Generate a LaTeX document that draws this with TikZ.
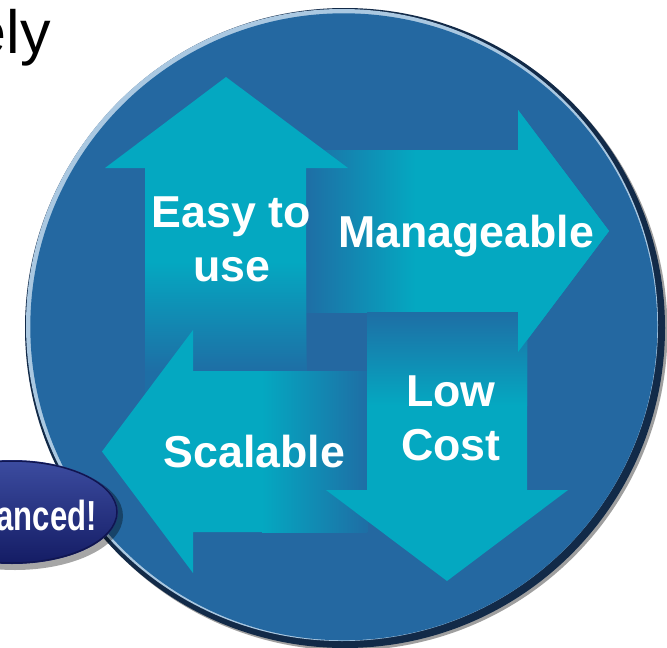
\documentclass[tikz,border=0pt]{standalone}
\usepackage{fontspec}
\setmainfont{Liberation Sans}
\definecolor{bgblue}{RGB}{36,104,161}
\definecolor{arrowteal}{RGB}{4,168,193}
\definecolor{tailblue}{RGB}{30,110,165}
\definecolor{rimdark}{RGB}{18,42,72}
\definecolor{hilite}{RGB}{170,200,225}
\definecolor{navytop}{RGB}{60,76,160}
\definecolor{navybot}{RGB}{20,28,100}
\begin{document}
\begin{tikzpicture}[x=1pt,y=-1pt,
  lbl/.style={text=white,font=\bfseries\fontsize{44.7}{56}\selectfont,inner sep=0pt,anchor=base}]
\useasboundingbox (0,0) rectangle (667,648);
\clip (0,0) rectangle (667,648);
% disc with rim
\fill[gray!75] (347.5,330.5) circle[radius=320pt];
\fill[rimdark] (345,328) circle[radius=320pt];
\fill[hilite] (342,325) circle[radius=316pt];
\fill[bgblue] (343.8,326.8) circle[radius=313.5pt];
% right arrow
\fill[arrowteal] (306,150) -- (518,150) -- (518,110) -- (609,231) -- (518,352) -- (518,312) -- (306,312) -- cycle;
\shade[left color=tailblue, right color=arrowteal] (306,150) rectangle (415,312);
% up arrow
\fill[arrowteal] (226,77) -- (348,168) -- (306,168) -- (306,400) -- (145,400) -- (145,168) -- (105,168) -- cycle;
\shade[top color=arrowteal, bottom color=tailblue] (145,262) rectangle (306,371);
\fill[tailblue] (145,371) rectangle (306,400);
% left arrow
\fill[arrowteal] (367,371) -- (367,532) -- (193,532) -- (193,573) -- (102,451.5) -- (193,330) -- (193,371) -- cycle;
\shade[left color=arrowteal, right color=tailblue] (262,371) rectangle (367,532);
% down arrow
\fill[arrowteal] (367,312) -- (527,312) -- (527,490) -- (568,490) -- (447,581) -- (326,490) -- (367,490) -- cycle;
\shade[top color=tailblue, bottom color=arrowteal] (367,312) rectangle (527,405);
% right arrow head again (on top of the down arrow)
\fill[arrowteal] (518,110) -- (609,231) -- (518,352) -- cycle;
% labels
\node[lbl] (easy) at (231.5,227) {Easy to};
\node[lbl] (use) at (232,281) {use};
\node[lbl] (mng) at (466,247) {Manageable};
\node[lbl] (low) at (451,406) {Low};
\node[lbl] (cost) at (451,460) {Cost};
\node[lbl] (scal) at (254.5,467) {Scalable};
% badge
\fill[black, opacity=0.35] (15,516) ellipse[x radius=108pt, y radius=54pt];
\shade[top color=navytop, bottom color=navybot] (12,512) ellipse[x radius=106pt, y radius=52pt];
\draw[navybot!80!black, line width=1.5pt] (12,512) ellipse[x radius=105pt, y radius=51pt];
\node[anchor=base east, inner sep=0pt, text=white, font=\bfseries\fontsize{42}{42}\selectfont] (badge) at (97,530) {\scalebox{0.74}[1]{anced!}};
% heading fragment
\node[anchor=base east, inner sep=0pt, text=black, font=\fontsize{61}{61}\selectfont] (ely) at (51,53) {ely};
\end{tikzpicture}
\end{document}
